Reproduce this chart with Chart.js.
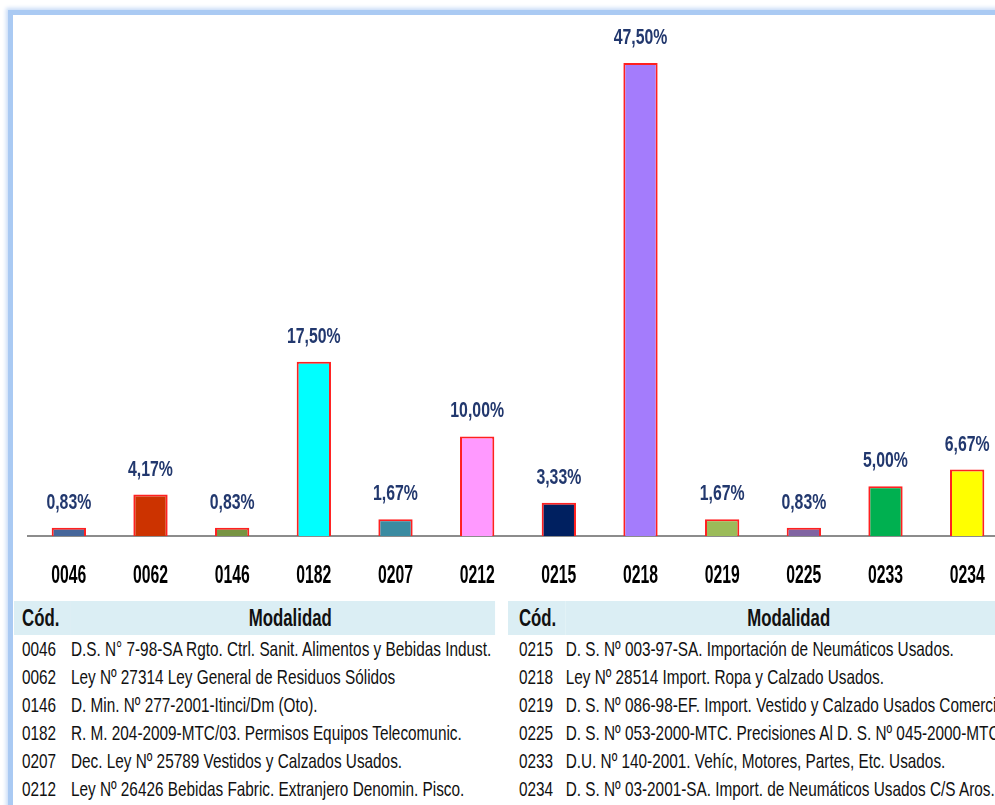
<!DOCTYPE html>
<html>
<head>
<meta charset="utf-8">
<script src="https://cdn.jsdelivr.net/npm/chart.js@4.4.0/dist/chart.umd.min.js"></script>
<style>
  html, body { margin: 0; padding: 0; background: #fff; overflow: hidden; width: 995px; height: 805px; }
  #marco {
    position: absolute; left: 8px; top: 10px; width: 1100px; height: 900px;
    border-left: 5px solid #AACAF3; border-top: 5px solid #AACAF3;
    box-shadow: -2px -2px 4px #C9DCF7;
  }
  #graf { position: absolute; left: 0; top: 0; width: 1020px; height: 600px; }
  table {
    position: absolute; top: 601px; border-collapse: collapse;
    font-family: "Liberation Sans", Arial, sans-serif;
    font-size: 21px; color: #111;
    transform: scaleX(0.73); transform-origin: 0 0;
  }
  th { background: #DBEEF4; font-weight: bold; font-size: 23px; height: 34px; text-align: left; padding: 0; }
  td { height: 28px; padding: 0; white-space: nowrap; }
  #tabla1 { left: 14px; width: 659px; }
  #tabla2 { left: 508px; width: 690px; }
  #tabla1 .cod { padding-left: 11px; width: 67px; }
  #tabla2 .cod { padding-left: 15px; width: 64px; }
  th.mod { text-align: center; }
</style>
</head>
<body>
<div id="marco"></div>
<div id="graf"><canvas id="myChart"></canvas></div>
<table id="tabla1"><thead><tr><th class="cod">Cód.</th><th class="mod" style="padding-left:20px">Modalidad</th></tr></thead><tbody></tbody></table>
<table id="tabla2"><thead><tr><th class="cod">Cód.</th><th class="mod">Modalidad</th></tr></thead><tbody></tbody></table>
<script>
var codigos = ['0046', '0062', '0146', '0182', '0207', '0212', '0215', '0218', '0219', '0225', '0233', '0234'];
var porcentajes = [0.83, 4.17, 0.83, 17.50, 1.67, 10.00, 3.33, 47.50, 1.67, 0.83, 5.00, 6.67];
var colores = ['#45669A', '#CC3300', '#779442', '#00FFFF', '#3A8BA1', '#FF99FF',
               '#002060', '#A47CFC', '#9BBB59', '#8064A2', '#00B050', '#FFFF00'];
var modalidades = [
  'D.S. N° 7-98-SA Rgto. Ctrl. Sanit. Alimentos y Bebidas Indust.',
  'Ley Nº 27314 Ley General de Residuos Sólidos',
  'D. Min. Nº 277-2001-Itinci/Dm (Oto).',
  'R. M. 204-2009-MTC/03. Permisos Equipos Telecomunic.',
  'Dec. Ley Nº 25789 Vestidos y Calzados Usados.',
  'Ley Nº 26426 Bebidas Fabric. Extranjero Denomin. Pisco.',
  'D. S. Nº 003-97-SA.  Importación de Neumáticos Usados.',
  'Ley Nº 28514 Import. Ropa y Calzado Usados.',
  'D. S. Nº 086-98-EF. Import. Vestido y Calzado Usados Comercio',
  'D. S. Nº 053-2000-MTC. Precisiones Al D. S. Nº 045-2000-MTC',
  'D.U. Nº 140-2001. Vehíc, Motores, Partes, Etc. Usados.',
  'D. S. Nº 03-2001-SA. Import. de Neumáticos Usados C/S Aros.'
];

// tablas de leyenda
for (var i = 0; i < codigos.length; i++) {
    var cuerpo = document.querySelector((i < 6 ? '#tabla1' : '#tabla2') + ' tbody');
    var fila = document.createElement('tr');
    fila.innerHTML = "<td class='cod'>" + codigos[i] + "</td><td>" + modalidades[i] + "</td>";
    cuerpo.appendChild(fila);
}

var fuente = '"Liberation Sans", Arial, sans-serif';

// texto angosto: se comprime en horizontal
function textoAngosto(ctx, txt, x, y, escala) {
    ctx.save();
    ctx.translate(x, y);
    ctx.scale(escala, 1);
    ctx.fillText(txt, 0, 0);
    ctx.restore();
}

var etiquetasPlugin = {
    id: 'etiquetas',
    afterDatasetsDraw: function(chart) {
        var ctx = chart.ctx;
        var meta = chart.getDatasetMeta(0);
        var ejeX = chart.scales.x;
        ctx.save();
        ctx.textAlign = 'center';
        ctx.textBaseline = 'middle';
        ctx.font = 'bold 22px ' + fuente;
        ctx.fillStyle = '#22386E';
        meta.data.forEach(function(bar, i) {
            var txt = porcentajes[i].toFixed(2).replace('.', ',') + '%';
            textoAngosto(ctx, txt, bar.x, bar.y - 25, 0.72);
        });
        ctx.font = 'bold 25px ' + fuente;
        ctx.fillStyle = '#000';
        codigos.forEach(function(c, i) {
            textoAngosto(ctx, c, ejeX.getPixelForTick(i), ejeX.top + 40, 0.63);
        });
        ctx.restore();
    }
};

var canvas = document.getElementById('myChart').getContext('2d');
var chart = new Chart(canvas, {
    type: 'bar',
    data: {
        labels: codigos,
        datasets: [{
            data: porcentajes,
            backgroundColor: colores,
            borderColor: '#FF2020',
            borderWidth: 2,
            borderSkipped: 'bottom',
            barPercentage: 0.42,
            categoryPercentage: 1
        }]
    },
    options: {
        responsive: true,
        maintainAspectRatio: false,
        animation: false,
        layout: { padding: { top: 38, left: 28, right: 12, bottom: 64 } },
        plugins: { legend: { display: false }, tooltip: { enabled: false } },
        scales: {
            y: { display: false, min: 0, max: 50 },
            x: {
                grid: { display: false, drawTicks: false, tickLength: 0 },
                border: { display: true, color: '#8C8C8C', width: 2 },
                ticks: { display: false }
            }
        }
    },
    plugins: [etiquetasPlugin]
});
</script>
</body>
</html>
